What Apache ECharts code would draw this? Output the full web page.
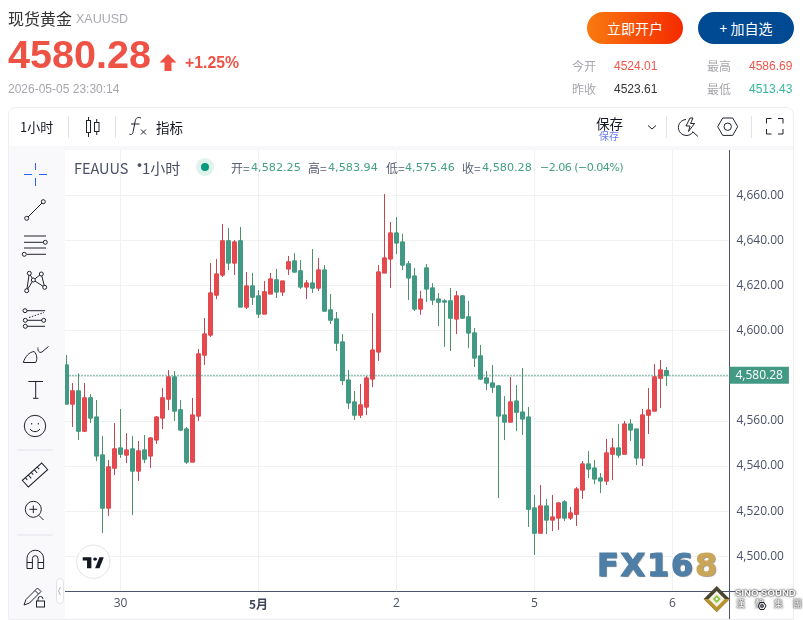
<!DOCTYPE html>
<html>
<head>
<meta charset="utf-8">
<title>现货黄金 XAUUSD</title>
<script src="https://cdn.jsdelivr.net/npm/echarts@6/dist/echarts.min.js"></script>
<style>
html,body{margin:0;padding:0;background:#fff;width:803px;height:620px;overflow:hidden;font-family:"Liberation Sans","Noto Sans CJK SC",sans-serif}
#main{position:absolute;left:0;top:0;width:803px;height:620px}
.t{position:absolute;white-space:nowrap;line-height:20px;z-index:5}
.cn{font-family:"Noto Sans CJK SC",sans-serif}
.box{position:absolute;box-sizing:border-box}
.ohlc{font-family:"DejaVu Sans",sans-serif;font-size:11.2px;color:#43a084}
.ohlc.k{font-family:"Noto Sans CJK SC",sans-serif;font-size:12px;color:#5a6074}
.btn{position:absolute;top:12px;width:96px;height:32px;border-radius:16px;color:#fff;font:14px/32px "Noto Sans CJK SC",sans-serif;text-align:center;z-index:5}
.sino{color:#fff;text-shadow:0 0 1px #444,0 0 2px #555,0 0 3px #777}
svg.icons{position:absolute;left:0;top:0;z-index:6;pointer-events:none}
</style>
</head>
<body>
<div id="main"></div>

<!-- page frame round the chart -->
<div class="box" style="left:8px;top:107px;width:786px;height:513px;border:1px solid #eeeef0;border-radius:8px 8px 0 0;z-index:4;pointer-events:none"></div>
<div class="box" style="left:9px;top:146px;width:784px;height:4px;background:#f8f8fa;z-index:3"></div>
<div class="box" style="left:9px;top:150px;width:56px;height:470px;background:#f9f9fb;z-index:3"></div>
<div class="box" style="left:65px;top:619px;width:728px;height:1px;background:#eeeef0;z-index:3"></div>
<div class="box" style="left:729px;top:591px;width:64px;height:1px;background:#50556e;z-index:3"></div>
<div class="box" style="left:729px;top:591px;width:1px;height:28px;background:#50556e;z-index:3"></div>
<div class="box" style="left:56px;top:578px;width:8px;height:26px;background:#fff;border:1px solid #e0e3eb;border-radius:4px;z-index:5"></div>

<!-- quote header -->
<div class="t cn" style="left:8px;top:8px;font-size:16px;color:#333">现货黄金</div>
<div class="t" style="left:76px;top:9px;font-size:12.5px;color:#a9a9b2">XAUUSD</div>
<div class="t" style="left:8px;top:44px;font-size:39.6px;font-weight:bold;color:#ee5245;line-height:20px">4580.28</div>
<div class="t" style="left:185px;top:53px;font-size:15.8px;font-weight:bold;color:#ee5245">+1.25%</div>
<div class="t" style="left:8px;top:79px;font-size:12px;color:#a6a6ad">2026-05-05 23:30:14</div>
<div class="btn" style="left:587px;background:linear-gradient(90deg,#f97a10,#f52a00)">立即开户</div>
<div class="btn" style="left:698px;background:#004a93">+ 加自选</div>
<div class="t cn" style="left:572px;top:56px;font-size:12px;color:#a6a6ad">今开</div>
<div class="t" style="left:614px;top:56px;font-size:12px;color:#f0564a">4524.01</div>
<div class="t cn" style="left:707px;top:56px;font-size:12px;color:#a6a6ad">最高</div>
<div class="t" style="left:749px;top:56px;font-size:12px;color:#f0564a">4586.69</div>
<div class="t cn" style="left:572px;top:79px;font-size:12px;color:#a6a6ad">昨收</div>
<div class="t" style="left:614px;top:79px;font-size:12px;color:#333">4523.61</div>
<div class="t cn" style="left:707px;top:79px;font-size:12px;color:#a6a6ad">最低</div>
<div class="t" style="left:749px;top:79px;font-size:12px;color:#35b89f">4513.43</div>

<!-- chart top bar -->
<div class="t cn" style="left:20px;top:117px;font-size:13px;color:#131722">1小时</div>
<div class="t cn" style="left:156px;top:117px;font-size:13.5px;color:#131722">指标</div>
<div class="t cn" style="left:596px;top:113px;font-size:13.5px;color:#131722">保存</div>
<div class="t cn" style="left:599px;top:126px;font-size:10px;color:#6a7cf0">保存</div>

<!-- chart legend row -->
<div class="t cn" style="left:74px;top:158px;font-size:14.5px;color:#4a5068">FEAUUS</div>
<div class="t cn" style="left:132px;top:155px;font-size:15px;font-weight:bold;color:#4a5068">·</div>
<div class="t cn" style="left:142px;top:158px;font-size:15px;color:#4a5068">1小时</div>
<div class="t ohlc k" style="left:231px;top:158px">开=</div><div class="t ohlc" style="left:251px;top:158px">4,582.25</div>
<div class="t ohlc k" style="left:308px;top:158px">高=</div><div class="t ohlc" style="left:328px;top:158px">4,583.94</div>
<div class="t ohlc k" style="left:386px;top:158px">低=</div><div class="t ohlc" style="left:405px;top:158px">4,575.46</div>
<div class="t ohlc k" style="left:462px;top:158px">收=</div><div class="t ohlc" style="left:482px;top:158px">4,580.28</div>
<div class="t ohlc" style="left:540px;top:158px;letter-spacing:-.6px">−2.06 (−0.04%)</div>

<!-- watermarks -->
<div class="t" style="left:597px;top:553px;font:bold 32px/24px 'DejaVu Sans',sans-serif;letter-spacing:1.7px;color:#4f7fa6;-webkit-text-stroke:1.2px #4f7fa6;text-shadow:1px 1px 1px #888">FX16<span style="color:#c9a659;-webkit-text-stroke:1.2px #c9a659">8</span></div>
<div class="t sino" style="left:735px;top:583px;font-size:9.6px;font-weight:bold">SINO SOUND</div>
<div class="t cn sino" style="left:736px;top:594px;font-size:9px;letter-spacing:10px">漢聲集團</div>

<svg class="icons" width="803" height="620" viewBox="0 0 803 620" fill="none" stroke="#1e222d" stroke-width="1">
  <!-- price arrow -->
  <path d="M168 54l8.5 8.5h-5V71h-7v-8.500h-5z" fill="#ee5245" stroke="none"/>
  <!-- top bar -->
  <g stroke="#e0e3eb"><path d="M68.500 116v22M115.500 116v22M666.500 116v22M751.500 116v22"/></g>
  <rect x="86.500" y="120.500" width="4" height="12"/><path d="M88.500 117v3.500M88.500 132.500v4.500"/>
  <rect x="94.500" y="122.500" width="4.500" height="9"/><path d="M96.700 119v3.500M96.700 131.500v3.500"/>
  <path d="M141 118c-4-1.500-5.500.5-6 4l-1.800 9.500c-.5 3-2 3.500-4 2.500M131 124h8.500M141 129.500l5 5M146 129.500l-5 5"/>
  <path d="M648 125.500l4 3.500 4-3.500"/>
  <path d="M686 119.500a8 8 0 1 0 7 12.500M692.500 131.500l5.500 5M690 118l-4 8h4l-1.500 5.500 6-8h-4l2.500-5.500z"/>
  <path d="M717.700 126.700l5-8.700h10l5 8.700-5 8.700h-10z"/><circle cx="727.700" cy="126.700" r="3.700"/>
  <path d="M766.500 123.500v-5h5M778 118.500h5v5M783 129v5h-5M771.500 134h-5v-5"/>
  <!-- drawing tools -->
  <path d="M24 174.500h8M39 174.500h8M35.500 163v7M35.500 178v8" stroke="#2962ff"/>
  <path d="M28 217l14-14"/><circle cx="26.700" cy="218.300" r="2"/><circle cx="43.300" cy="201.700" r="2"/>
  <path d="M24 236h22M24 242.300h19M24 248h22M27 254.300h19"/><circle cx="45.300" cy="242.300" r="2"/><circle cx="24.300" cy="254.300" r="2"/>
  <path d="M26.700 290.700L29.300 273.300L33.300 280L41.300 274L44.700 287.300L33.300 280L26.700 290.700"/>
  <g fill="#f9f9fb"><circle cx="29.300" cy="273.300" r="2"/><circle cx="41.300" cy="274" r="2"/><circle cx="33.300" cy="280" r="2"/><circle cx="26.700" cy="290.700" r="2"/><circle cx="44.700" cy="287.300" r="2"/></g>
  <path d="M27 310.700h18M27 320.300h15M27 326.300h18"/><path d="M29 317.500l15-5" stroke-dasharray="1.500 1.500"/>
  <circle cx="25" cy="310.700" r="2"/><circle cx="25.300" cy="320.300" r="2"/><circle cx="43.700" cy="320.300" r="2"/><circle cx="25.300" cy="326.300" r="2"/>
  <path d="M23.300 362.500h12.400c1.800-3.500 1.500-7.500-1.500-11c-5 .5-9 5-10.900 11zM38 347.500c-.5 3 1 6 4 4.500l6.500-5.500"/>
  <path d="M28.300 381.500h14.700M35.700 381.500v17M33 398.300h5.500"/>
  <circle cx="35" cy="426" r="10.700"/><path d="M30 429c2.500 3.500 7.500 3.500 10 0"/><path d="M31.700 423v1.500M38.300 423v1.500"/>
  <path d="M17.500 450h35M17.500 535h35" stroke="#e0e3eb"/>
  <g transform="rotate(-42 35 475)"><rect x="22" y="470.500" width="26" height="9"/><path d="M26 470.500v3M30 470.500v4.500M34 470.500v3M38 470.500v4.500M42 470.500v3"/></g>
  <circle cx="33.300" cy="509.300" r="8"/><path d="M29.500 509.300h7.600M33.300 505.500v7.600M39 515.500l4.500 4.500"/>
  <path d="M27 568.500v-10a8.300 8.300 0 0 1 16.600 0v10h-5.600v-10a2.800 2.800 0 0 0-5.600 0v10zM27 562.500h5.500M38 562.500h5.600"/>
  <path d="M24 605l2-5.500 11.500-11.500 3.500 3.500-11.500 11.500zM35 590.500l3.500 3.500"/>
  <rect x="36.500" y="601" width="8" height="6"/><path d="M38 601v-2a2.500 2.500 0 0 1 5 0"/>
  <path d="M60.500 587l-2 4 2 4" stroke="#b2b5be"/>
  <!-- TradingView badge -->
  <circle cx="93.300" cy="561.700" r="16.700" fill="#fff" stroke="#e0e3eb"/>
  <g transform="translate(82.700 557.300) scale(.62 .52)" fill="#131722" stroke="none"><path d="M14 0H0v6h7v15h7V0zM27 21h-7L27 0h7z"/><circle cx="20" cy="3.500" r="3.200"/></g>
  <!-- sino sound mark -->
  <path d="M716.700 586l13 13-13 13-13-13z" fill="#4a4530" stroke="none"/><path d="M716.700 599l13 0-13 13-13-13z" fill="#b8932f" stroke="none"/>
  <path d="M716.700 591l8 8-8 8-8-8z" fill="#f4f1e4" stroke="none"/><path d="M716.700 595l4 4-4 4-4-4z" fill="#8cc63f" stroke="none"/><path d="M716.700 597.500l1.500 1.500-1.500 1.500-1.500-1.500z" fill="#fff" stroke="none"/>
  <path d="M758 606l2-3.500h4l2 3.500-2 3.500h-4z"/><circle cx="762" cy="606" r="1.300"/>
</svg>

<script>
// 1 hour bars
const opens = [
  4584.8,4567.5,4573.3,4555.5,4570.2,4561.7,4544.9,4521.4,4539.1,4548.0,
  4544.9,4547.6,4537.8,4547.1,4544.5,4551.6,4561.3,4569.7,4579.5,4564.9,
  4556.4,4541.8,4562.2,4589.2,4598.1,4615.8,4624.7,4639.8,4630.0,4639.8,
  4610.5,4619.8,4615.4,4607.4,4616.3,4622.5,4617.2,4627.4,4630.9,4626.5,
  4619.4,4621.1,4618.9,4626.9,4609.2,4605.2,4595.0,4578.1,4568.4,4562.6,
  4566.2,4578.6,4590.6,4625.6,4631.8,4643.3,4639.3,4629.6,4624.2,4609.6,
  4627.8,4618.9,4614.0,4613.2,4613.2,4605.2,4615.4,4606.1,4599.0,4588.8,
  4579.0,4576.8,4575.5,4562.6,4559.5,4568.8,4563.9,4561.7,4521.4,4510.3,
  4522.3,4516.1,4517.0,4524.1,4517.0,4518.7,4529.4,4540.9,4539.1,4534.7,
  4533.4,4545.3,4548.0,4545.3,4558.6,4556.4,4543.6,4562.6,4564.4,4579.0,
  4582.25
];
const closes = [
  4567.5,4573.3,4555.5,4570.2,4561.3,4544.5,4521.4,4539.6,4547.6,4545.3,
  4547.1,4537.8,4546.7,4543.1,4552.4,4561.7,4570.2,4579.5,4564.4,4556.0,
  4541.8,4562.6,4589.7,4598.5,4616.7,4625.1,4639.8,4630.0,4639.3,4610.5,
  4619.8,4614.9,4607.4,4617.2,4622.9,4617.2,4622.0,4630.5,4626.0,4619.4,
  4621.1,4618.9,4626.9,4608.7,4604.7,4594.5,4577.9,4568.0,4562.6,4567.1,
  4579.0,4591.4,4626.0,4632.2,4643.3,4638.9,4629.1,4623.4,4609.6,4614.0,
  4618.5,4613.6,4612.7,4612.7,4605.6,4615.4,4605.6,4599.0,4587.9,4578.6,
  4576.8,4575.0,4562.2,4559.5,4568.4,4563.9,4560.9,4520.9,4510.3,4522.3,
  4516.1,4517.4,4523.6,4517.0,4519.2,4529.8,4540.9,4538.7,4534.3,4533.4,
  4545.8,4548.0,4544.9,4558.6,4556.0,4543.6,4562.6,4564.8,4579.5,4582.6,
  4580.28
];
const lows = [
  4567.5,4557.3,4551.6,4555.1,4559.1,4542.2,4510.3,4517.9,4536.0,4543.6,
  4541.3,4518.3,4533.4,4541.3,4539.1,4549.8,4556.4,4564.8,4560.0,4555.5,
  4540.9,4541.8,4560.0,4584.8,4597.2,4614.0,4623.8,4626.9,4624.7,4610.5,
  4609.6,4611.4,4605.6,4607.4,4616.3,4614.5,4615.4,4624.7,4626.0,4618.5,
  4614.0,4616.7,4617.6,4608.7,4603.0,4591.0,4575.9,4565.3,4560.4,4561.3,
  4562.6,4575.0,4586.6,4625.6,4618.9,4634.0,4626.9,4613.6,4608.7,4607.0,
  4612.7,4611.4,4602.1,4592.8,4591.0,4598.5,4605.2,4592.3,4583.9,4578.1,
  4573.7,4572.4,4525.8,4551.5,4559.5,4555.5,4553.8,4513.0,4500.6,4510.3,
  4509.9,4511.2,4511.7,4515.6,4516.1,4513.4,4525.4,4534.7,4532.0,4528.0,
  4531.6,4533.8,4543.6,4545.3,4551.1,4540.4,4540.0,4554.2,4564.4,4565.7,
  4575.46
];
const highs = [
  4589.2,4576.8,4581.1,4576.8,4571.9,4569.3,4553.3,4542.7,4559.1,4565.3,
  4554.6,4553.3,4551.1,4553.8,4552.9,4562.2,4574.6,4582.6,4582.1,4569.3,
  4557.3,4570.2,4591.9,4605.6,4630.0,4631.8,4647.3,4645.5,4640.2,4646.0,
  4626.0,4625.6,4618.0,4622.0,4625.6,4627.4,4622.0,4633.1,4634.4,4631.3,
  4622.5,4636.2,4632.2,4629.1,4616.3,4608.3,4598.5,4582.6,4573.3,4576.4,
  4579.9,4607.8,4629.1,4660.6,4648.2,4650.4,4642.9,4630.9,4627.8,4617.6,
  4629.6,4621.1,4616.7,4614.0,4618.9,4617.6,4615.8,4613.2,4601.2,4593.7,
  4582.1,4584.8,4575.9,4571.0,4579.5,4575.9,4583.5,4566.2,4527.2,4531.6,
  4525.4,4527.2,4524.1,4524.9,4521.9,4530.7,4542.2,4546.7,4542.7,4536.9,
  4552.0,4552.4,4558.6,4560.0,4560.8,4556.4,4565.3,4574.6,4585.2,4587.0,
  4583.94
];
const lastPrice = 4580.28;
const yTicks = [4500,4520,4540,4560,4580,4600,4620,4640,4660];
const xTickIndex = [9,32,55,78,101];
const xTickLabels = ['30','5月','2','5','6'];
const categoryCount = 111; // the axis runs on past the last bar

const upColor = '#e5494e', downColor = '#429a84';
const upWick = '#bf4852', downWick = '#4b9467';
const axisFont = '"Open Sans",sans-serif';

const categories = Array.from({length: categoryCount}, (_, i) => String(i));
const fmtPrice = v => v.toLocaleString('en-US', {minimumFractionDigits: 2, maximumFractionDigits: 2});
const isXTick = i => xTickIndex.indexOf(i) >= 0;

var myChart = echarts.init(document.getElementById('main'), null, {renderer: 'canvas'});
myChart.setOption({
  animation: false,
  grid: {left: 63.5, top: 150, width: 666, height: 441},
  xAxis: {
    type: 'category',
    data: categories,
    axisLine: {lineStyle: {color: '#50556e', width: 1}},
    axisTick: {show: false, alignWithLabel: true, interval: isXTick},
    splitLine: {show: true, alignWithLabel: true, interval: isXTick, lineStyle: {color: '#f1f1f4'}},
    axisLabel: {
      interval: isXTick,
      margin: 7,
      color: '#4a5068',
      fontFamily: axisFont,
      fontSize: 12,
      formatter: function (v, i) {
        var k = xTickIndex.indexOf(i);
        if (k < 0) return '';
        return xTickLabels[k] === '5月' ? '{b|5月}' : xTickLabels[k];
      },
      rich: {b: {fontWeight: 'bold', color: '#3c4257', fontSize: 12, fontFamily: '"Noto Sans CJK SC",sans-serif'}}
    }
  },
  yAxis: {
    type: 'value',
    position: 'right',
    min: 4484.63,
    max: 4680.09,
    axisLine: {show: true, lineStyle: {color: '#50556e', width: 1}},
    axisTick: {show: false, customValues: yTicks},
    splitLine: {show: true, lineStyle: {color: '#f1f1f4'}},
    axisLabel: {
      customValues: yTicks,
      margin: 7,
      color: '#4a5068',
      fontFamily: axisFont,
      fontSize: 12,
      formatter: fmtPrice
    }
  },
  series: [
    {
      // wicks, under the bodies
      type: 'candlestick',
      barWidth: 5,
      silent: true,
      itemStyle: {color: upWick, color0: downWick, borderColor: upWick, borderColor0: downWick, borderWidth: 1},
      data: opens.map((o, i) => [o, closes[i], lows[i], highs[i]]),
      markLine: {
        silent: true,
        symbol: 'none',
        lineStyle: {color: '#2f8f73', type: [1, 2], width: 1.4},
        label: {
          position: 'end',
          distance: 0,
          formatter: fmtPrice(lastPrice),
          color: '#fff',
          backgroundColor: '#429a84',
          padding: [3, 6, 2, 6],
          fontFamily: axisFont,
          fontSize: 12
        },
        data: [{yAxis: lastPrice}]
      }
    },
    {
      // bodies only
      type: 'candlestick',
      barWidth: 5,
      silent: true,
      itemStyle: {color: upColor, color0: downColor, borderColor: upColor, borderColor0: downColor, borderWidth: 1},
      data: opens.map((o, i) => [o, closes[i], Math.min(o, closes[i]), Math.max(o, closes[i])])
    }
  ]
});
</script>

<!-- status dot of the legend row -->
<div class="box" style="left:196px;top:158px;width:18px;height:18px;border-radius:9px;background:#dff2ec;z-index:5"></div>
<div class="box" style="left:201px;top:163px;width:8px;height:8px;border-radius:4px;background:#089981;z-index:5"></div>
</body>
</html>
